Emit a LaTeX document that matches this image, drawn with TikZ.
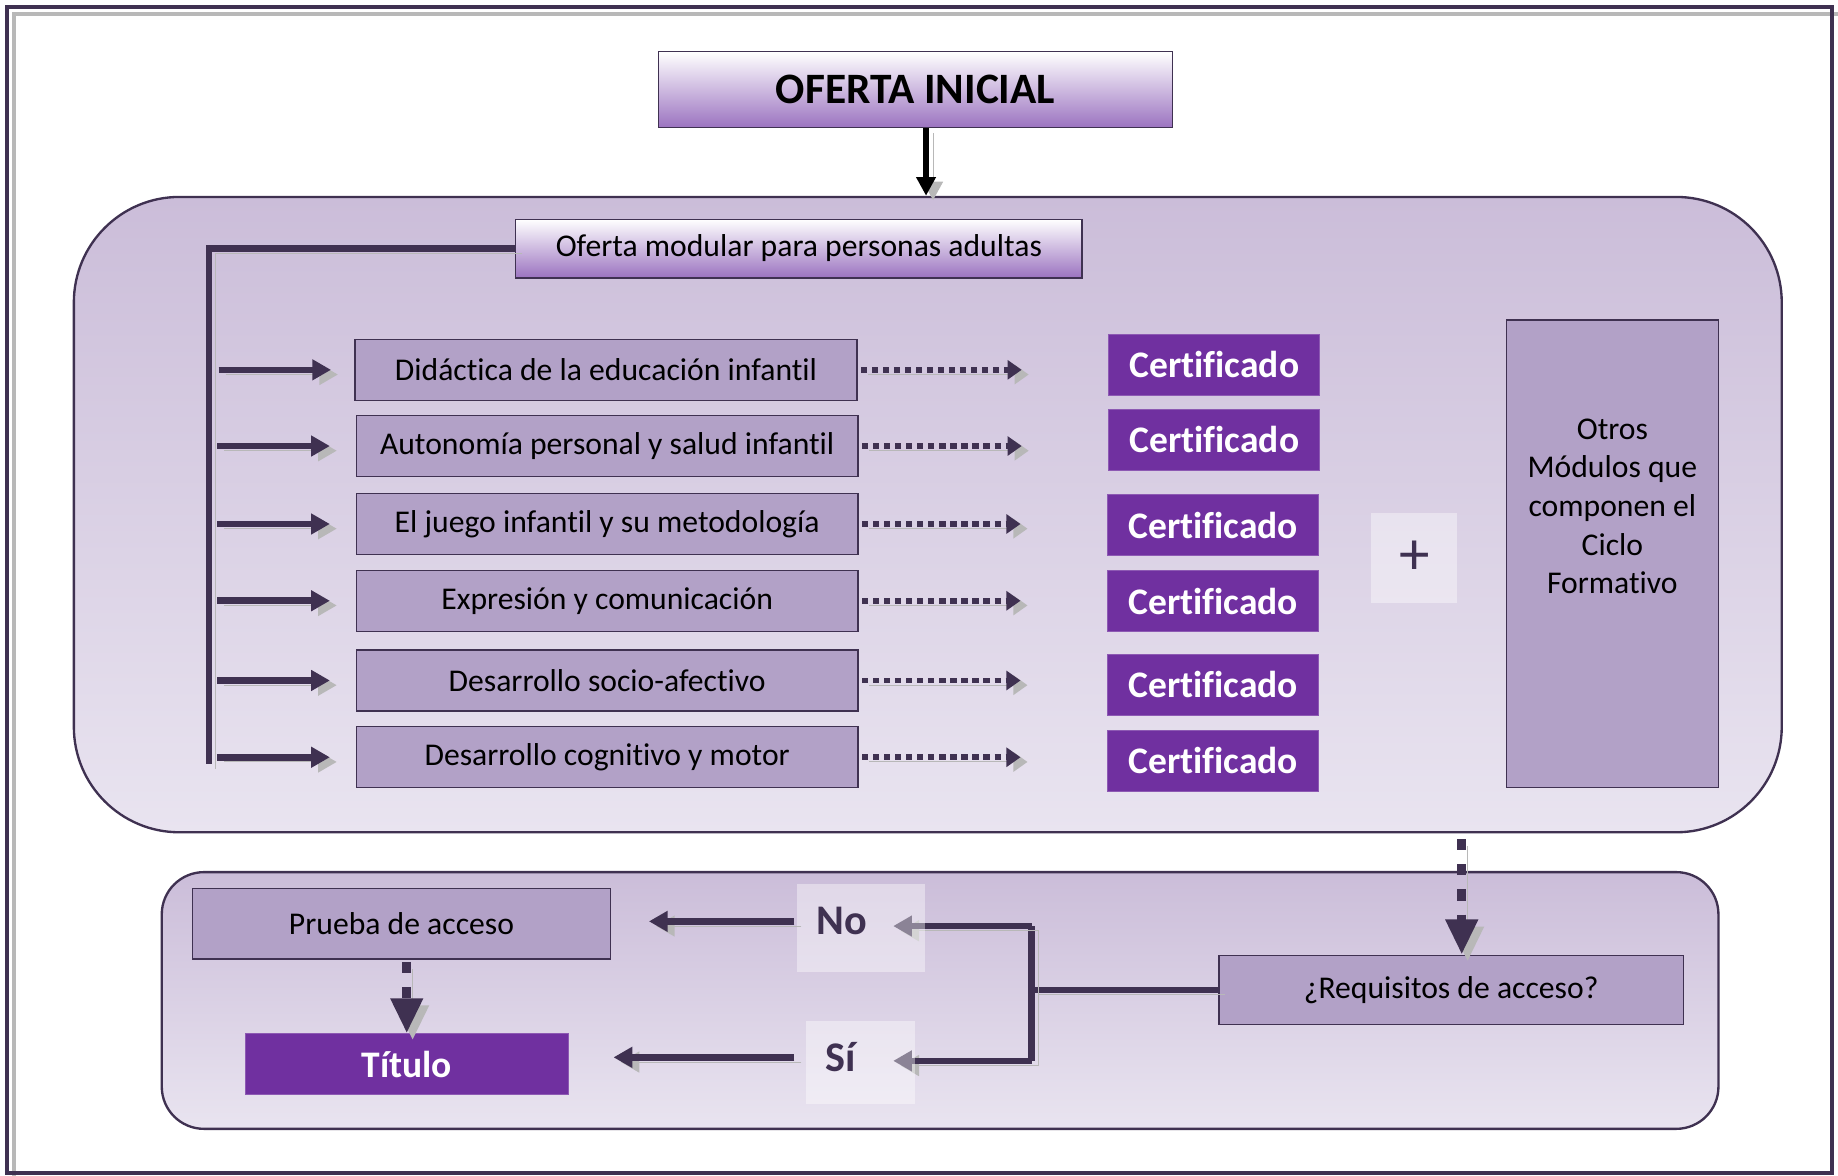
\documentclass[tikz,border=0pt]{standalone}
\usepackage{fontspec}
\setmainfont{Carlito}[Ligatures=NoCommon]
\usepackage{tikz}
\usetikzlibrary{arrows.meta}
\definecolor{dark}{HTML}{3F3151}
\definecolor{modfill}{HTML}{B2A1C7}
\definecolor{certfill}{HTML}{7030A0}
\definecolor{shgrey}{HTML}{B8B8B8}
\definecolor{paneltop}{HTML}{CBBDD9}
\definecolor{panelbot}{HTML}{E9E4F0}
\definecolor{headbot}{HTML}{9B73C0}
\tikzstyle{shadowed} = [preaction={draw=shgrey, transform canvas={shift={(3pt,-2pt)}}}]
\tikzstyle{headbox} = [draw=dark, line width=0.6pt, top color=white, bottom color=headbot, inner sep=0pt]
\tikzstyle{modbox} = [draw=dark, fill=modfill, line width=0.6pt, minimum width=214pt, minimum height=26pt, inner sep=0pt, font=\fontsize{13.5}{16}\selectfont]
\tikzstyle{certbox} = [fill=certfill, draw=certfill!80!white, line width=0.4pt, minimum width=90pt, minimum height=26pt, inner sep=0pt, text=white, font=\bfseries\fontsize{16}{18}\selectfont]
\tikzstyle{panel} = [draw=dark, line width=1pt, top color=paneltop, bottom color=panelbot, inner sep=0pt]
\tikzstyle{veil} = [fill=white, fill opacity=0.4, inner sep=0pt]
\tikzstyle{answer} = [text=dark, font=\bfseries\fontsize{18}{20}\selectfont]
\tikzstyle{bracket} = [draw=dark, line width=2.6pt, shadowed]
\tikzstyle{solidarrow} = [draw=dark, line width=2.8pt, -{Triangle[length=8pt,width=8.5pt]}, shadowed]
\tikzstyle{dotarrow} = [draw=dark, line width=2.4pt, dash pattern=on 2.6pt off 2.1pt, -{Triangle[length=6pt,width=8pt]}, shadowed]
\tikzstyle{bigdots} = [draw=dark, line width=4pt, dash pattern=on 4.7pt off 6pt, -{Triangle[length=15pt,width=13pt]}, preaction={draw=shgrey, transform canvas={shift={(2.5pt,-3pt)}}}]

\begin{document}
\begin{tikzpicture}[x=0.5pt, y=-0.5pt]
	\useasboundingbox (0,0) rectangle (1568,1003);
	% frame
	\draw [shgrey, line width=1.4pt] (12,1003) -- (12,12) -- (1568,12);
	\draw [dark, line width=1.7pt] (6,6) rectangle (1563,1001);

	% top part
	\node [headbox, minimum width=219pt, minimum height=32.5pt, font=\bfseries\fontsize{18.5}{20}\selectfont] (ofini) at (781,76.5) {OFERTA INICIAL};
	\node [panel, rounded corners=45pt, minimum width=728.5pt, minimum height=271pt] (panel) at (791.5,439) {};
	\draw [black, line width=2.6pt, -{Triangle[length=8pt,width=8pt]}, shadowed] ([xshift=4.5pt]ofini.south) -- ([xshift=4.5pt]ofini.south |- panel.north);
	\node [headbox, minimum width=241.5pt, minimum height=25pt, font=\fontsize{13.5}{16}\selectfont] (ofmod) at (681.5,212) {Oferta modular para personas adultas};

	\node [modbox] (m1) at (517,315.5) {Didáctica de la educación infantil};
	\node [modbox] (m2) at (518,380.5) {Autonomía personal y salud infantil};
	\node [modbox] (m3) at (518,447) {El juego infantil y su metodología};
	\node [modbox] (m4) at (518,512.5) {Expresión y comunicación};
	\node [modbox] (m5) at (518,580.5) {Desarrollo socio-afectivo};
	\node [modbox] (m6) at (518,646) {Desarrollo cognitivo y motor};

	\node [certbox] (c1) at (1036,311) {Certificado};
	\node [certbox] (c2) at (1036,375) {Certificado};
	\node [certbox] (c3) at (1035,448) {Certificado};
	\node [certbox] (c4) at (1035,513) {Certificado};
	\node [certbox] (c5) at (1035,584) {Certificado};
	\node [certbox] (c6) at (1035,649) {Certificado};

	\node [veil, minimum width=36.5pt, minimum height=38pt, text opacity=1, text=dark, font=\fontsize{26}{28}\selectfont] (plus) at (1206.5,476) {+};
	\node [modbox, minimum width=90.5pt, minimum height=199.5pt] (otros) at (1375.5,472.5) {};
	\node [align=center, font=\fontsize{13.5}{16.5}\selectfont] (otrostxt) at (1375.5,432) {Otros\\Módulos que\\componen el\\Ciclo\\Formativo};

	\coordinate (brk) at (178,652);
	\path [bracket] (ofmod.west) -| (brk);
	\path [solidarrow] ([xshift=-58pt]m1.west) -- ([xshift=-10pt]m1.west);
	\path [solidarrow] ([xshift=-59pt]m2.west) -- ([xshift=-11pt]m2.west);
	\path [solidarrow] ([xshift=-59pt]m3.west) -- ([xshift=-11pt]m3.west);
	\path [solidarrow] ([xshift=-59pt]m4.west) -- ([xshift=-11pt]m4.west);
	\path [solidarrow] ([xshift=-59pt]m5.west) -- ([xshift=-11pt]m5.west);
	\path [solidarrow] ([xshift=-59pt]m6.west) -- ([xshift=-11pt]m6.west);

	\path [dotarrow] ([xshift=1.5pt]m1.east) -- ([xshift=-37pt]c1.west |- m1.east);
	\path [dotarrow] ([xshift=1.5pt]m2.east) -- ([xshift=-37pt]c2.west |- m2.east);
	\path [dotarrow] ([xshift=1.5pt]m3.east) -- ([xshift=-37pt]c3.west |- m3.east);
	\path [dotarrow] ([xshift=1.5pt]m4.east) -- ([xshift=-37pt]c4.west |- m4.east);
	\path [dotarrow] ([xshift=1.5pt]m5.east) -- ([xshift=-37pt]c5.west |- m5.east);
	\path [dotarrow] ([xshift=1.5pt]m6.east) -- ([xshift=-37pt]c6.west |- m6.east);

	% bottom part
	\node [panel, rounded corners=18pt, minimum width=664pt, minimum height=109.5pt] (panel2) at (802,853.5) {};
	\node [modbox, minimum width=178.5pt, minimum height=30pt] (prueba) at (342.5,788) {Prueba de acceso};
	\node [certbox, minimum width=138pt, minimum height=26pt] (titulo) at (347,908) {Título};
	\node [modbox, minimum width=198pt, minimum height=29.5pt] (req) at (1238,844.5) {¿Requisitos de acceso?};

	\path [bigdots] ([xshift=4.5pt,yshift=-2.5pt]req.north |- panel.south) -- ([xshift=4.5pt]req.north);
	\path [bigdots] ([yshift=-1pt]prueba.south -| titulo.north) -- (titulo.north);

	\coordinate (fork) at (880,844.5);
	\path [bracket] (req.west) -- (fork);
	\path [bracket] (880,790) -- (880,905);
	\path [solidarrow] (880,790) -- (762,790);
	\path [solidarrow] (880,905) -- (762,905);

	\node [veil, minimum width=54.5pt, minimum height=37.5pt] (nobox) at (734.5,791.5) {};
	\node [veil, minimum width=46.5pt, minimum height=35.5pt] (sibox) at (734.5,906.5) {};
	\node [answer] (no) at (718,786) {No};
	\node [answer] (si) at (717,902) {Sí};

	\path [solidarrow] ([xshift=-1pt]nobox.west |- no) -- ([xshift=16pt]prueba.east |- no);
	\path [solidarrow] ([xshift=-5pt]sibox.west |- si) -- ([xshift=19pt]titulo.east |- si);
\end{tikzpicture}
\end{document}
